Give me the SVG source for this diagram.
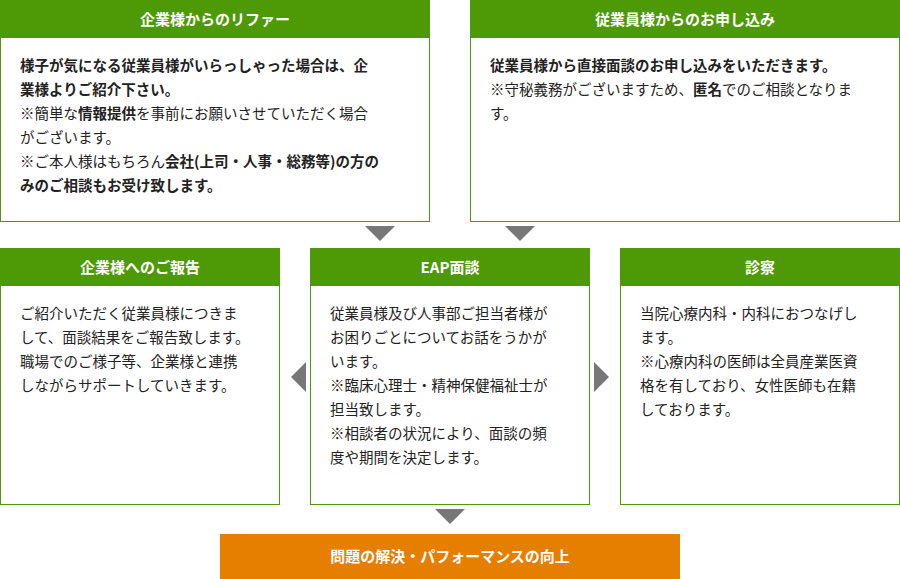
<svg xmlns="http://www.w3.org/2000/svg" width="900" height="579" viewBox="0 0 900 579">
<style>
.box{fill:#fff;stroke:#4e9a06;stroke-width:1}
.hd{fill:#4e9a06}
.ht{fill:#fff;font-family:"Noto Sans CJK JP",sans-serif;font-size:15px;font-weight:bold;text-anchor:middle}
.t{fill:#222;font-family:"Noto Sans CJK JP",sans-serif;font-size:14.5px}
.b{font-weight:bold}
.ar{fill:#777}
</style>
<rect width="900" height="579" fill="#fff"/>
<g id="n1">
<rect class="box" x="0.5" y="0.5" width="429" height="221"/><rect class="hd" x="0" y="0" width="430" height="38"/>
<text class="ht" x="215" y="25">企業様からのリファー</text>
<text class="t" x="20" y="71"><tspan class="b">様子が気になる従業員様がいらっしゃった場合は、企</tspan><tspan class="b" x="20" dy="24">業様よりご紹介下さい。</tspan><tspan x="20" dy="24">※簡単な<tspan class="b">情報提供</tspan>を事前にお願いさせていただく場合</tspan><tspan x="20" dy="24">がございます。</tspan><tspan x="20" dy="24">※ご本人様はもちろん<tspan class="b">会社(上司・人事・総務等)の方の</tspan></tspan><tspan class="b" x="20" dy="24">みのご相談もお受け致します。</tspan></text>
</g>
<g id="n2">
<rect class="box" x="470.5" y="0.5" width="429" height="221"/><rect class="hd" x="470" y="0" width="430" height="38"/>
<text class="ht" x="685" y="25">従業員様からのお申し込み</text>
<text class="t" x="490" y="71"><tspan class="b">従業員様から直接面談のお申し込みをいただきます。</tspan><tspan x="490" dy="24">※守秘義務がございますため、<tspan class="b">匿名</tspan>でのご相談となりま</tspan><tspan x="490" dy="24">す。</tspan></text>
</g>
<g id="n3">
<rect class="box" x="0.5" y="248.5" width="279" height="256"/><rect class="hd" x="0" y="248" width="280" height="38"/>
<text class="ht" x="140" y="273">企業様へのご報告</text>
<text class="t" x="20" y="319"><tspan>ご紹介いただく従業員様につきま</tspan><tspan x="20" dy="24">して、面談結果をご報告致します。</tspan><tspan x="20" dy="24">職場でのご様子等、企業様と連携</tspan><tspan x="20" dy="24">しながらサポートしていきます。</tspan></text>
</g>
<g id="n4">
<rect class="box" x="310.5" y="248.5" width="279" height="256"/><rect class="hd" x="310" y="248" width="280" height="38"/>
<text class="ht" x="450" y="273">EAP面談</text>
<text class="t" x="330" y="319"><tspan>従業員様及び人事部ご担当者様が</tspan><tspan x="330" dy="24">お困りごとについてお話をうかが</tspan><tspan x="330" dy="24">います。</tspan><tspan x="330" dy="24">※臨床心理士・精神保健福祉士が</tspan><tspan x="330" dy="24">担当致します。</tspan><tspan x="330" dy="24">※相談者の状況により、面談の頻</tspan><tspan x="330" dy="24">度や期間を決定します。</tspan></text>
</g>
<g id="n5">
<rect class="box" x="620.5" y="248.5" width="279" height="256"/><rect class="hd" x="620" y="248" width="280" height="38"/>
<text class="ht" x="760" y="273">診察</text>
<text class="t" x="640" y="319"><tspan>当院心療内科・内科におつなげし</tspan><tspan x="640" dy="24">ます。</tspan><tspan x="640" dy="24">※心療内科の医師は全員産業医資</tspan><tspan x="640" dy="24">格を有しており、女性医師も在籍</tspan><tspan x="640" dy="24">しております。</tspan></text>
</g>
<g id="n6">
<rect x="220" y="534" width="460" height="45" fill="#e67e00"/>
<text class="ht" x="450" y="562">問題の解決・パフォーマンスの向上</text>
</g>
<g id="connectors">
<polygon class="ar" points="365,226 395,226 380,241"/>
<polygon class="ar" points="505,226 535,226 520,241"/>
<polygon class="ar" points="306,362 306,392 291,377"/>
<polygon class="ar" points="594,362 594,392 609,377"/>
<polygon class="ar" points="435,509 465,509 450,524"/>
</g>
</svg>
